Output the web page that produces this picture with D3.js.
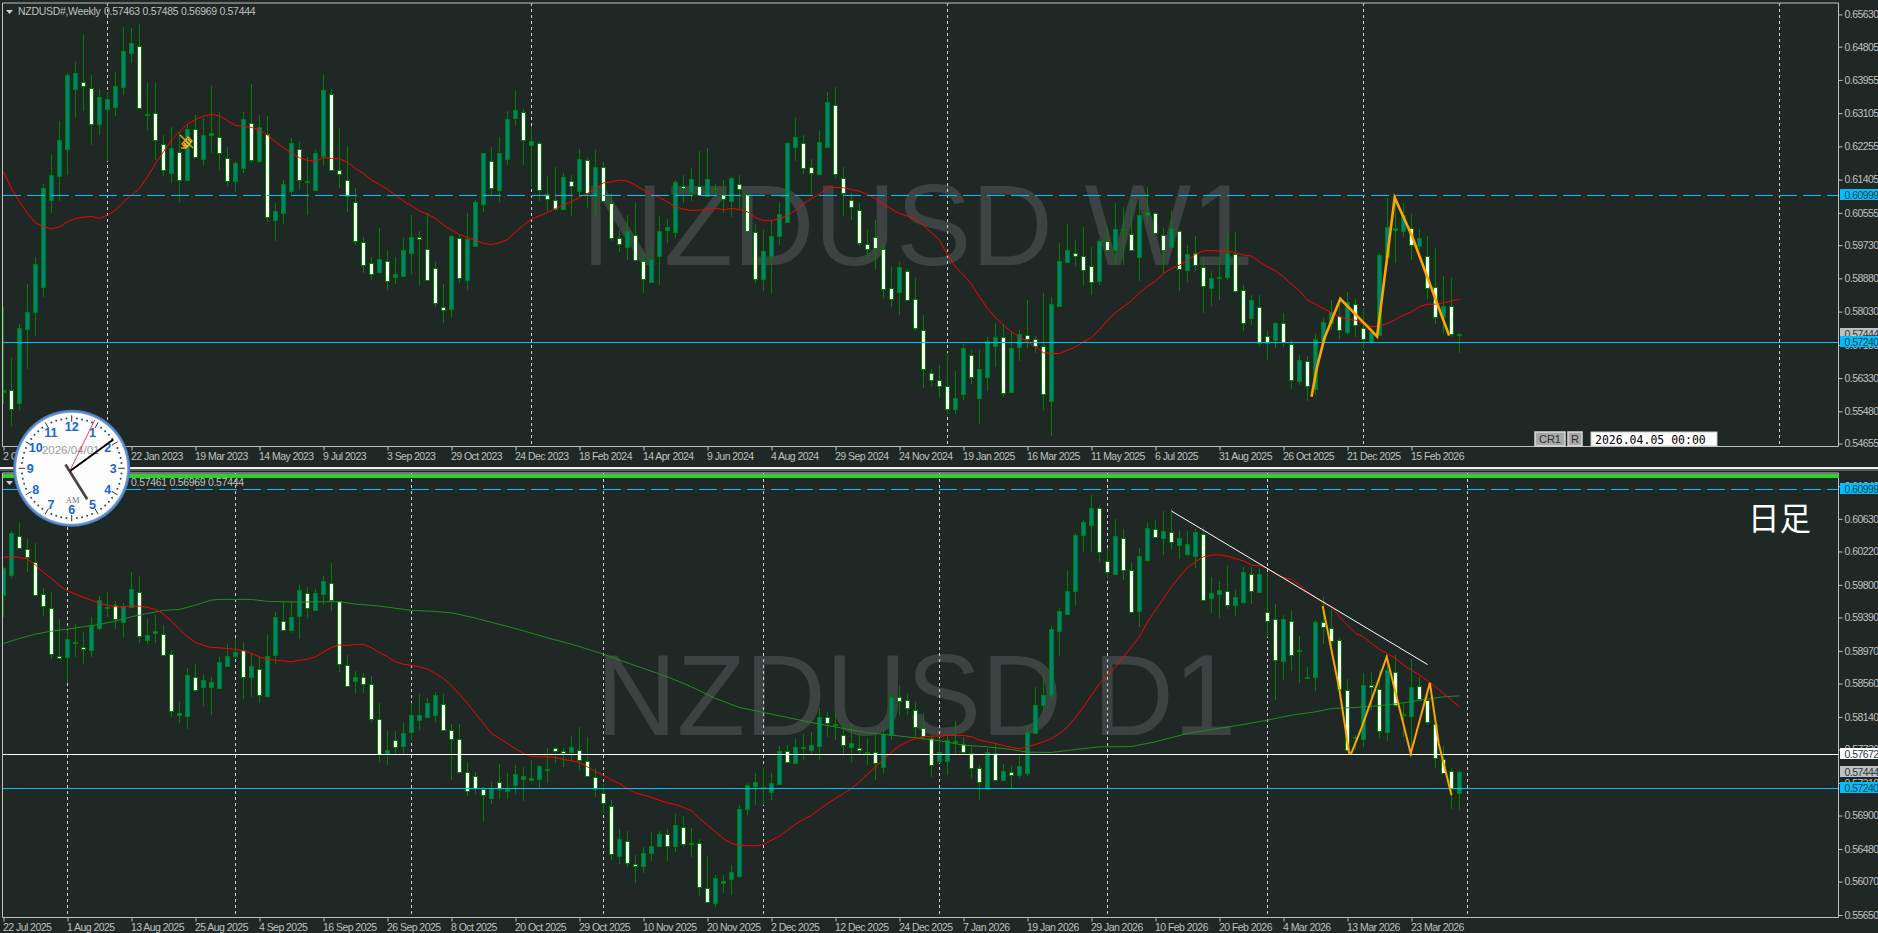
<!DOCTYPE html>
<html><head><meta charset="utf-8">
<script src="https://cdn.jsdelivr.net/npm/d3@7/dist/d3.min.js"></script>
<style>html,body{margin:0;padding:0;background:#1f2824;overflow:hidden}svg{display:block}</style>
</head><body><svg id="c" width="1878" height="933"></svg>
<script>
const weeklyHigh=[.58152,.56831,.57709,.58732,.59431,.61289,.62057,.62909,.64137,.64418,.65126,.64077,.63710,.63651,.64162,.65296,.65270,.65381,.63890,.63890,.62543,.62739,.62628,.62824,.63054,.62969,.63796,.63139,.62244,.61886,.63139,.63847,.63054,.63028,.60795,.61392,.62457,.62372,.61988,.62159,.64103,.63710,.62713,.62261,.61179,.59942,.59431,.60156,.59601,.59431,.59900,.60497,.60096,.60539,.59303,.58732,.59985,.60011,.60539,.60880,.62091,.62244,.62500,.63165,.63693,.63199,.62773,.62398,.61494,.61716,.61579,.61520,.62176,.61946,.62159,.61844,.61051,.60113,
.60497,.60838,.59516,.59704,.60471,.60386,.61392,.61520,.61690,.62133,.62202,.61289,.61392,.61477,.61520,.61093,.60266,.60113,.60369,.60838,.62372,.62969,.62543,.61920,.62670,.63651,.63762,.61716,.61051,.60812,.60113,.60369,.59772,.59201,.59303,.59107,.58877,.57939,.56575,.56660,.56959,.56507,.57214,.57061,.57044,.57368,.57743,.57709,.57513,.57555,.58323,.57402,.58510,.58391,.59772,.60283,.59857,.60198,.59670,.59874,.60198,.60795,.60693,.60880,.60795,.61221,.60582,.60156,.60607,.60113,.59729,.59959,.59431,.59064,.59431,.60045,.60070,
.58706,.58451,.58451,.57555,.57769,.58007,.57300,.56916,.56890,.57453,.57854,.58323,.58237,.58536,.58348,.58110,.57555,.59533,.60923,.60965,.60795,.60522,.60130,.59959,.59644,.58936,.58894,.57485];
const weeklyLow=[.55680,.55100,.55509,.56575,.57402,.58408,.60556,.60863,.61520,.62986,.63156,.62287,.62543,.61886,.63028,.63566,.64375,.63225,.62671,.61903,.61503,.61306,.60838,.61375,.61988,.61750,.62074,.61647,.61238,.61076,.61579,.61818,.61818,.60326,.59840,.60266,.61034,.61136,.60497,.61119,.61750,.61647,.61179,.60573,.59729,.59005,.58834,.58988,.58595,.58732,.58919,.58988,.58681,.58834,.58135,.57726,.57854,.58766,.58595,.59687,.60582,.61008,.60838,.61775,.62773,.61775,.61221,.60863,.60607,.60607,.60624,.60471,.60965,.60667,.60454,.60838,.59840,.59559,
.59346,.59329,.58510,.58792,.58706,.59789,.59925,.60795,.60863,.61000,.60965,.60965,.60556,.60454,.60624,.60070,.58766,.58561,.58493,.59729,.60301,.61886,.61545,.61025,.61520,.62227,.61434,.60471,.60369,.59712,.59363,.59090,.58382,.58152,.57939,.58306,.57538,.56081,.56123,.55833,.55424,.55407,.55782,.56191,.55151,.56004,.56618,.55850,.55936,.56771,.57087,.56959,.55509,.54853,.58135,.59303,.59192,.58681,.58451,.58706,.59584,.59218,.59218,.59584,.58817,.60266,.60028,.59005,.59644,.58561,.58792,.59073,.58001,.58169,.58323,.58851,.58510,
.57538,.57683,.57146,.56805,.57087,.57129,.56055,.56149,.55748,.55893,.57214,.57555,.57342,.57428,.57368,.57087,.57231,.57402,.59431,.59277,.59942,.59346,.59601,.58340,.57709,.57470,.57368,.56969];
const weeklyOpen=[.55978,.56038,.55680,.57598,.58024,.58647,.60863,.61503,.62176,.63710,.63907,.63753,.62807,.63199,.63242,.63753,.64631,.64827,.63046,.63114,.62304,.61562,.62116,.61375,.62705,.61920,.62526,.62483,.61963,.61349,.61690,.62858,.61861,.62568,.60352,.60539,.61093,.62193,.61323,.61119,.62006,.63600,.61647,.61392,.60838,.59815,.59277,.59022,.59329,.58902,.58919,.59533,.59942,.59636,.59150,.58152,.58084,.59900,.58817,.59687,.60769,.61886,.61136,.61920,.62969,.63139,.62270,.62347,.61042,.60889,.60641,.61375,.61119,.61903,.60982,.61733,.60812,.59925,
.59687,.59994,.59329,.58792,.59456,.60096,.60045,.61247,.61068,.61238,.60965,.61170,.61034,.60838,.61298,.61034,.60070,.58851,.59448,.59942,.60301,.62227,.62347,.61716,.61528,.62227,.63318,.61451,.60880,.60624,.59755,.59934,.59636,.58630,.58510,.59073,.58357,.57555,.56464,.56277,.56123,.55552,.55910,.56925,.55833,.56362,.57163,.57385,.55978,.57104,.57436,.57325,.57155,.55748,.58169,.59303,.59533,.59456,.59201,.58792,.59840,.59584,.60113,.60019,.59431,.60480,.60556,.59994,.59661,.60096,.59081,.59533,.59175,.58647,.58894,.58902,.59491,
.58595,.57854,.58152,.57419,.57283,.57726,.57189,.56260,.56771,.56064,.57300,.57743,.57913,.57487,.58229,.57598,.57249,.57419,.59431,.60096,.60096,.60164,.59729,.59456,.58647,.57896,.58169,.57463];
const weeklyClose=[.56038,.55552,.57598,.58024,.59260,.61179,.61511,.62415,.64077,.64120,.63796,.62841,.63506,.63455,.63787,.64682,.64887,.63242,.63071,.62432,.61647,.62202,.61392,.62687,.61988,.62534,.62585,.62074,.61383,.61818,.62943,.61903,.62739,.60454,.60590,.61281,.62329,.61409,.61358,.62074,.63693,.61665,.61537,.60982,.59832,.59218,.58988,.59363,.58817,.58979,.59593,.59942,.59900,.58851,.58263,.58084,.59959,.58877,.59874,.60821,.62074,.61204,.62074,.62943,.63173,.62432,.62381,.61136,.60906,.60667,.61460,.61238,.61937,.61051,.61733,.60855,.59925,.59772,
.60096,.59363,.58877,.59388,.60104,.60181,.61332,.61204,.61409,.61000,.61409,.61196,.60906,.61434,.61179,.60087,.58877,.59567,.59968,.60514,.62329,.62483,.61716,.61562,.62355,.63378,.61562,.61076,.60693,.59772,.59618,.59644,.58621,.58340,.59158,.58323,.57624,.56549,.56294,.56123,.55535,.55833,.57087,.56362,.56575,.57283,.57393,.55961,.57112,.57445,.57342,.57146,.55936,.58237,.59329,.59618,.59448,.59090,.58800,.59823,.59618,.60130,.60139,.59618,.60505,.60565,.60053,.59601,.60156,.59116,.59491,.59218,.58681,.58902,.58911,.59516,.58536,
.57752,.58323,.57231,.57249,.57726,.57249,.56260,.56805,.56123,.57342,.57760,.58024,.57555,.58263,.57700,.57317,.57513,.59474,.60198,.60156,.60497,.59721,.59925,.58647,.57879,.58169,.57445,.57444];
const weeklyMA=[.61605,.61179,.60838,.60539,.60301,.60198,.60147,.60198,.60326,.60411,.60445,.60462,.60411,.60497,.60624,.60838,.61008,.61179,.61477,.61818,.62116,.62415,.62628,.62824,.62943,.63028,.63071,.63037,.62909,.62790,.62773,.62739,.62671,.62543,.62372,.62219,.62091,.61963,.61895,.61869,.61971,.61946,.61937,.61844,.61690,.61562,.61392,.61281,.61153,.61008,.60855,.60735,.60607,.60522,.60411,.60241,.60113,.60002,.59917,.59857,.59772,.59746,.59789,.59874,.60070,.60241,.60394,.60480,.60565,.60667,.60752,.60838,.60948,.61051,.61179,.61323,.61349,.61392,
.61366,.61264,.61136,.61034,.60948,.60838,.60710,.60650,.60616,.60624,.60650,.60667,.60641,.60667,.60641,.60582,.60428,.60360,.60352,.60411,.60480,.60624,.60795,.60923,.61034,.61204,.61204,.61196,.61153,.61110,.61025,.60923,.60778,.60650,.60539,.60471,.60394,.60224,.60053,.59857,.59474,.59175,.58962,.58732,.58408,.58110,.57879,.57683,.57513,.57385,.57257,.57129,.56976,.56959,.56959,.57044,.57129,.57257,.57368,.57572,.57811,.58007,.58152,.58306,.58510,.58681,.58809,.59005,.59133,.59218,.59346,.59499,.59584,.59593,.59576,.59576,.59542,
.59474,.59448,.59303,.59175,.59073,.58919,.58732,.58561,.58323,.58220,.58110,.58007,.57896,.57828,.57811,.57709,.57641,.57666,.57726,.57828,.57939,.58024,.58152,.58220,.58220,.58254,.58306,.58340];
const dailyHigh=[.60028,.60476,.60593,.60384,.60321,.59756,.59705,.59370,.59232,.59307,.59211,.59399,.59659,.59714,.59596,.59567,.59957,.59911,.59378,.59420,.59295,.58979,.58322,.58749,.58803,.58678,.58636,.58904,.59055,.59134,.59076,.58929,.58895,.59181,.59462,.59588,.59588,.59797,.59776,.59742,.59911,.60070,.59601,.58916,.58715,.58686,.58653,.58317,.57974,.57961,.58078,.58309,.58426,.58372,.58456,.58426,.58057,.58057,.57575,.57450,.57261,.57324,.57546,.57437,.57533,.57512,.57604,.57533,.57751,.57764,.57743,.57902,.58016,.57890,.57492,.57295,.57093,.56737,
.56703,.56402,.56506,.56687,.56708,.56737,.56917,.56892,.56749,.56611,.56389,.56150,.56150,.56284,.57030,.57315,.57429,.57512,.57441,.57772,.57785,.57869,.57919,.57953,.58246,.58204,.58204,.58066,.58057,.57932,.57869,.57932,.58016,.58426,.58527,.58426,.58330,.58192,.57898,.57869,.57911,.58091,.57890,.57785,.57533,.57751,.57806,.57554,.57521,.57680,.58016,.58519,.58665,.59282,.59504,.59986,.60447,.60615,.60929,.60803,.60258,.60623,.60497,.60091,.60258,.60593,.60615,.60728,.60749,.60489,.60476,.60497,.60531,.59894,.59847,.60036,.59734,
.60028,.60028,.60015,.59952,.59558,.59420,.59483,.59156,.58770,.59357,.59651,.59491,.59126,.58611,.57911,.58695,.58707,.58728,.58916,.58916,.58309,.58862,.58644,.58435,.58078,.57772,.57492,.57471];
const dailyLow=[.59399,.59890,.60258,.59965,.59659,.59412,.58871,.58875,.58561,.58895,.58803,.58895,.59223,.59399,.59240,.59126,.59504,.59072,.59055,.59072,.58912,.58141,.58066,.57986,.58456,.58275,.58170,.58489,.58779,.58875,.58363,.58393,.58317,.58384,.58803,.59223,.59190,.59122,.59378,.59474,.59546,.59474,.58707,.58519,.58422,.58443,.58078,.57575,.57533,.57680,.57680,.57848,.57974,.58129,.58070,.57965,.57353,.57420,.57148,.57177,.56821,.57051,.57114,.57114,.57177,.57085,.57324,.57240,.57311,.57563,.57512,.57588,.57471,.57387,.57135,.56926,.56347,.56297,
.56255,.56054,.56180,.56330,.56515,.56330,.56443,.56506,.56380,.55886,.55815,.55752,.55932,.55899,.56121,.56905,.57030,.57030,.57093,.57282,.57567,.57546,.57596,.57672,.57604,.57890,.57856,.57647,.57575,.57659,.57533,.57345,.57420,.57848,.58162,.58162,.57890,.57848,.57387,.57563,.57408,.57680,.57680,.57366,.57093,.57240,.57336,.57336,.57240,.57366,.57395,.57923,.58204,.58343,.58908,.59432,.59533,.60216,.60216,.60091,.59881,.59923,.59860,.59462,.59273,.60091,.60405,.60174,.60237,.60124,.60161,.60018,.59601,.59449,.59378,.59491,.59412,
.59558,.59558,.59693,.59147,.58351,.58602,.58720,.58569,.58623,.58468,.59055,.59030,.58477,.57722,.57722,.57764,.58225,.57869,.57840,.58267,.57890,.57638,.58351,.58036,.57504,.57429,.56980,.56969];
const dailyOpen=[.59672,.59915,.60417,.60254,.60091,.59689,.59513,.58908,.58883,.59059,.59021,.58979,.59252,.59525,.59550,.59336,.59517,.59714,.59097,.59185,.59185,.58937,.58162,.58141,.58636,.58506,.58514,.58493,.58782,.58908,.58975,.58636,.58745,.58393,.58908,.59349,.59232,.59399,.59701,.59474,.59689,.59826,.59592,.58795,.58594,.58648,.58556,.58116,.57680,.57844,.57764,.57940,.58091,.58129,.58154,.58305,.57978,.57865,.57450,.57403,.57232,.57114,.57324,.57211,.57282,.57362,.57349,.57349,.57462,.57751,.57714,.57689,.57726,.57588,.57387,.57185,.57022,.56402,
.56582,.56297,.56267,.56435,.56523,.56670,.56519,.56758,.56548,.56557,.55991,.55802,.56054,.56096,.56129,.56972,.57273,.57248,.57185,.57295,.57710,.57554,.57751,.57726,.57777,.58141,.58049,.57915,.57751,.57751,.57693,.57697,.57504,.57911,.58393,.58347,.58233,.58003,.57877,.57575,.57588,.57823,.57797,.57684,.57492,.57248,.57684,.57349,.57450,.57399,.57437,.57940,.58288,.58405,.59211,.59437,.59714,.60417,.60543,.60761,.60103,.59936,.60392,.59990,.59462,.60103,.60505,.60380,.60468,.60292,.60179,.60161,.60443,.59625,.59680,.59726,.59537,
.59579,.59940,.59710,.59462,.59374,.58837,.59349,.58962,.58623,.58636,.59328,.59261,.59101,.58481,.57886,.57869,.58544,.58489,.57953,.58707,.58154,.58154,.58527,.58351,.58049,.57613,.57458,.57177];
const dailyClose=[.60007,.60447,.60271,.60153,.59680,.59542,.58937,.58887,.59114,.59076,.59000,.59282,.59604,.59508,.59378,.59537,.59743,.59164,.59164,.59215,.58925,.58221,.58183,.58661,.58472,.58598,.58573,.58825,.58912,.58962,.58636,.58774,.58422,.58900,.59391,.59240,.59391,.59730,.59517,.59693,.59847,.59617,.58800,.58535,.58648,.58560,.58120,.57680,.57730,.57756,.57932,.58158,.58158,.58309,.58410,.57982,.57860,.57445,.57206,.57248,.57156,.57232,.57240,.57232,.57424,.57403,.57378,.57517,.57479,.57714,.57693,.57756,.57596,.57403,.57240,.57056,.56414,.56611,
.56309,.56272,.56435,.56523,.56674,.56523,.56787,.56548,.56561,.56003,.55819,.56121,.56083,.56184,.56976,.57278,.57328,.57265,.57303,.57714,.57575,.57756,.57760,.57793,.58145,.58070,.58032,.57793,.57806,.57730,.57705,.57554,.57919,.58393,.58338,.58246,.58016,.57907,.57538,.57693,.57856,.57835,.57693,.57492,.57315,.57701,.57349,.57466,.57408,.57517,.57953,.58296,.58410,.59240,.59466,.59722,.60422,.60585,.60761,.60203,.59969,.60413,.59994,.59462,.60157,.60510,.60409,.60472,.60338,.60384,.60308,.60459,.59617,.59693,.59730,.59554,.59642,
.59957,.59730,.59932,.59353,.58862,.59366,.58925,.58979,.58636,.59328,.59269,.59101,.58489,.57730,.57869,.58544,.58523,.57961,.58728,.58288,.58171,.58518,.58363,.58070,.57621,.57441,.57227,.57444];
const dailyMAFast=[.60145,.60158,.60145,.60124,.60049,.59957,.59881,.59789,.59726,.59684,.59642,.59609,.59567,.59546,.59525,.59521,.59533,.59533,.59517,.59491,.59432,.59344,.59244,.59147,.59076,.59038,.59013,.59009,.59000,.58988,.58971,.58937,.58895,.58862,.58853,.58845,.58833,.58853,.58866,.58895,.58958,.59013,.59046,.59038,.59051,.59051,.59009,.58950,.58895,.58833,.58803,.58787,.58770,.58741,.58686,.58623,.58531,.58426,.58309,.58183,.58057,.57932,.57869,.57806,.57743,.57680,.57642,.57638,.57638,.57630,.57605,.57588,.57567,.57512,.57450,.57408,.57345,.57303,
.57240,.57185,.57156,.57127,.57093,.57060,.57039,.57001,.56959,.56863,.56779,.56695,.56611,.56548,.56527,.56523,.56519,.56536,.56590,.56641,.56716,.56791,.56850,.56905,.56976,.57051,.57114,.57177,.57240,.57324,.57420,.57512,.57596,.57701,.57777,.57827,.57869,.57890,.57898,.57898,.57907,.57907,.57907,.57890,.57848,.57827,.57806,.57781,.57756,.57739,.57764,.57793,.57827,.57869,.57932,.58016,.58133,.58267,.58414,.58560,.58652,.58770,.58895,.59021,.59147,.59336,.59483,.59630,.59776,.59902,.60019,.60091,.60153,.60174,.60178,.60161,.60128,
.60103,.60049,.60040,.60007,.59936,.59894,.59869,.59797,.59714,.59642,.59567,.59525,.59399,.59295,.59190,.59147,.59063,.58988,.58937,.58875,.58791,.58728,.58665,.58594,.58519,.58435,.58351,.58267];
const dailySlowBars=[0,2,4,6,8,10,12,14,16,18,20,22,24,26,27,31,33,37,40,42,44,47,51,54,56,59,62,65,68,71,75,77,80,83,86,89,92,95,98,102,105,108,111,114,117,120,123,126,128,131,134,137,141,144,148,151,154,158,161,164,166,169,172,175,178,180,182];
const dailySlowMA=[.59063,.59126,.59181,.59218,.59244,.59273,.59303,.59344,.59399,.59441,.59479,.59491,.59546,.59609,.59617,.59617,.59592,.59584,.59588,.59588,.59558,.59533,.59479,.59466,.59449,.59382,.59303,.59223,.59134,.59055,.58929,.58854,.58749,.58644,.58519,.58372,.58259,.58196,.58133,.58049,.57995,.57940,.57911,.57877,.57840,.57785,.57764,.57730,.57697,.57693,.57730,.57764,.57768,.57827,.57932,.57982,.58028,.58099,.58162,.58204,.58246,.58259,.58280,.58317,.58363,.58393,.58405];
const weeklyWaveBars=[163.5,164.2,165.1,167.1,171.7,173.9,176.1,180.7];
const weeklyWave=[.55850,.56618,.57342,.58357,.57393,.60948,.59942,.57419];
const dailyWaveBars=[164.9,167,168.2,168.5,169.8,172.9,175.9,178.3,179.4,181];
const dailyWave=[.59533,.58477,.57689,.57689,.58016,.58895,.57680,.58569,.57806,.57156];
const trendBars=[146,178];
const trendPrices=[.60728,.58799];
const weeklyTicks=[.65630,.64805,.63955,.63105,.62255,.61405,.60555,.59730,.58880,.58030,.57180,.56330,.55480,.54655];
const dailyTicks=[.61040,.60630,.60220,.59800,.59390,.58970,.58560,.58140,.57730,.57310,.56900,.56480,.56070,.55650];
const weeklyLabels=["2 Oct 2022","27 Nov 2022","22 Jan 2023","19 Mar 2023","14 May 2023","9 Jul 2023","3 Sep 2023","29 Oct 2023","24 Dec 2023","18 Feb 2024","14 Apr 2024","9 Jun 2024","4 Aug 2024","29 Sep 2024","24 Nov 2024","19 Jan 2025","16 Mar 2025","11 May 2025","6 Jul 2025","31 Aug 2025","26 Oct 2025","21 Dec 2025","15 Feb 2026"];
const dailyLabels=["22 Jul 2025","1 Aug 2025","13 Aug 2025","25 Aug 2025","4 Sep 2025","16 Sep 2025","26 Sep 2025","8 Oct 2025","20 Oct 2025","29 Oct 2025","10 Nov 2025","20 Nov 2025","2 Dec 2025","12 Dec 2025","24 Dec 2025","7 Jan 2026","19 Jan 2026","29 Jan 2026","10 Feb 2026","20 Feb 2026","4 Mar 2026","13 Mar 2026","23 Mar 2026"];
const labelEvery=8;
const weeklySeparators=[13,66,118,170,222];
const dailySeparators=[8,29,51,75,95,117,138,158,183];
const levelResistance=.60999, levelSupport=.57240, levelNeck=.57672, lastClose=.57444;

const BG="#1f2824",FRAME="#c0c0c0",TXT="#c0c0c0",WICK="#008000",UP="#008080",DOWN="#ffffff",CY="#00bfff",RED="#ff0000",GRN="#228b22",ORG="#ffa500";
const svg=d3.select("#c");
svg.append("rect").attr("width",1878).attr("height",933).attr("fill",BG);
const x=d3.scaleLinear().domain([0,182]).range([3.5,1459.5]);
const yW=d3.scaleLinear().domain([levelSupport,levelResistance]).range([342.5,195.5]);
const yD=d3.scaleLinear().domain([levelSupport,levelResistance]).range([788.5,489.5]);
const FONT='"Liberation Sans",Arial,sans-serif';

function pane(o){
  const g=svg.append("g");
  g.append("text").attr("x",o.wmX).attr("y",o.wmY).attr("fill","#3d4342").attr("font-family",FONT).attr("font-size",115).attr("textLength",o.wmW).attr("lengthAdjust","spacingAndGlyphs").text(o.wm);
  const id="clip"+o.id;
  svg.append("clipPath").attr("id",id).append("rect").attr("x",3).attr("y",o.top).attr("width",1836).attr("height",o.bottom-o.top);
  const p=g.append("g").attr("clip-path",`url(#${id})`);
  p.selectAll("line.sep").data(o.sep).join("line").attr("class","sep")
    .attr("x1",d=>x(d)).attr("x2",d=>x(d)).attr("y1",o.top).attr("y2",o.bottom)
    .attr("stroke","#d0d0d0").attr("stroke-dasharray","3,3");
  const n=o.open.length, idx=d3.range(n);
  p.selectAll("line.w").data(idx).join("line").attr("class","w")
    .attr("x1",i=>x(i)).attr("x2",i=>x(i)).attr("y1",i=>Math.round(o.y(o.high[i]))).attr("y2",i=>Math.round(o.y(o.low[i])))
    .attr("stroke",WICK).attr("shape-rendering","crispEdges");
  p.selectAll("rect.b").data(idx).join("rect").attr("class","b")
    .attr("x",i=>x(i)-2).attr("width",4)
    .attr("y",i=>Math.round(o.y(Math.max(o.open[i],o.close[i])))+.5)
    .attr("height",i=>Math.max(1,Math.round(Math.abs(o.y(o.open[i])-o.y(o.close[i])))))
    .attr("fill",i=>o.close[i]>=o.open[i]?UP:DOWN)
    .attr("stroke",WICK).attr("shape-rendering","crispEdges");
  const line=d3.line().x(d=>x(d[0])).y(d=>o.y(d[1]));
  (o.slow||[]).length&&p.append("path").attr("d",line(o.slowBars.map((b,i)=>[b,o.slow[i]]))).attr("fill","none").attr("stroke",GRN).attr("stroke-width",1);
  p.append("path").attr("d",line(o.ma.map((v,i)=>[i,v]))).attr("fill","none").attr("stroke",RED).attr("stroke-width",1);
  const lev=(v,c,dash)=>p.append("line").attr("x1",3).attr("x2",1839).attr("y1",Math.floor(o.y(v))+.5).attr("y2",Math.floor(o.y(v))+.5).attr("stroke",c).attr("stroke-dasharray",dash||null);
  lev(levelResistance,CY,"18,6");
  if(o.neck) lev(levelNeck,"#ffffff");
  lev(levelSupport,CY);
  if(o.trend) p.append("path").attr("d",line(trendBars.map((b,i)=>[b,trendPrices[i]]))).attr("stroke","#ffffff").attr("fill","none");
  p.append("path").attr("d",line(o.waveBars.map((b,i)=>[b,o.wave[i]]))).attr("fill","none").attr("stroke",ORG).attr("stroke-width",o.waveW).attr("stroke-linejoin","miter");
  g.append("path").attr("d",`M2.5,${o.top}V${o.bottom+.5}H1838.5V${o.top}`+(o.topLine?`H2.5`:"")).attr("fill","none").attr("stroke",FRAME);
  const ax=d3.axisRight(o.y).tickValues(o.ticks).tickFormat(d3.format(".5f")).tickSize(4).tickPadding(2);
  const ga=g.append("g").attr("transform","translate(1838.5,0)").call(ax);
  const tb=d3.axisBottom(x).tickValues(o.labels.map((_,i)=>i*labelEvery)).tickFormat((_,i)=>o.labels[i]).tickSize(4).tickPadding(2);
  const gb=g.append("g").attr("transform",`translate(0,${o.bottom+.5})`).call(tb);
  for(const a of [ga,gb]){a.select(".domain").remove();a.selectAll("line").attr("stroke",FRAME);a.selectAll("text").attr("fill",TXT).attr("font-family",FONT).attr("font-size",10.5).attr("letter-spacing","-0.55px");}
  gb.selectAll("text").attr("text-anchor","start").attr("dx",-1);
  o.tags.forEach(t=>{
    const yy=Math.floor(o.y(t.v))+.5;
    g.append("rect").attr("x",1840).attr("y",yy-6.5).attr("width",38).attr("height",11).attr("fill",t.c);
    g.append("text").attr("x",1844.5).attr("y",yy+3).attr("fill","#2a3a40").attr("font-family",FONT).attr("font-size",10.5).attr("letter-spacing","-0.55px").text(d3.format(".5f")(t.v));
  });
  g.append("path").attr("d",`M6,${o.hy-5}h7l-3.5,4z`).attr("fill","#d0d0d0");
  g.append("text").attr("x",18).attr("y",o.hy).attr("fill",TXT).attr("font-family",FONT).attr("font-size",10.5).attr("letter-spacing","-0.3px").text(o.name);
  g.append("text").attr("x",o.hx).attr("y",o.hy).attr("fill",TXT).attr("font-family",FONT).attr("font-size",10.5).attr("letter-spacing","-0.3px").text(o.vals);
}
pane({id:"w",top:3,bottom:446,topLine:true,y:yW,open:weeklyOpen,high:weeklyHigh,low:weeklyLow,close:weeklyClose,ma:weeklyMA,
  sep:weeklySeparators,waveBars:weeklyWaveBars,wave:weeklyWave,waveW:2.6,ticks:weeklyTicks,labels:weeklyLabels,
  tags:[{v:lastClose,c:"#c0c0c0"},{v:levelSupport,c:CY},{v:levelResistance,c:CY}],
  wm:"NZDUSD W1",wmX:582,wmY:265,wmW:672,name:"NZDUSD#,Weekly",vals:"0.57463 0.57485 0.56969 0.57444",hx:104,hy:15});
pane({id:"d",top:473,bottom:917,topLine:true,y:yD,open:dailyOpen,high:dailyHigh,low:dailyLow,close:dailyClose,ma:dailyMAFast,slow:dailySlowMA,slowBars:dailySlowBars,
  sep:dailySeparators,neck:true,trend:true,waveBars:dailyWaveBars,wave:dailyWave,waveW:2,ticks:dailyTicks,labels:dailyLabels,
  tags:[{v:lastClose,c:"#c0c0c0"},{v:levelNeck,c:"#ffffff"},{v:levelSupport,c:CY},{v:levelResistance,c:CY}],
  wm:"NZDUSD D1",wmX:596,wmY:735,wmW:640,name:"NZDUSD#,Daily",vals:"0.57461 0.56969 0.57444",hx:131,hy:486});
svg.append("rect").attr("x",3).attr("y",474).attr("width",1836).attr("height",4).attr("fill","#32cd32");
svg.append("rect").attr("x",0).attr("y",467).attr("width",1878).attr("height",2).attr("fill","#f0f0f0");
svg.append("rect").attr("x",0).attr("y",469.5).attr("width",1878).attr("height",1).attr("fill","#909090");
svg.append("text").attr("x",1748).attr("y",530).attr("fill","#fff").attr("font-family",'"Noto Sans CJK JP"').attr("font-size",31.5).text("日足");
const pm=svg.append("g").attr("transform","translate(186,142)").attr("stroke",ORG).attr("fill","none").attr("stroke-width",1.2);
pm.append("path").attr("d","M-6,-7L7,6M-4,2L2,-5L6,-1L0,6ZM-5,6h4v-4").attr("stroke-width",1.4);
pm.append("path").attr("d","M-2,1L2,5M0,-1L4,3M2,-3L5,0").attr("stroke","#ffc040");
const btn=(x0,w,t)=>{svg.append("rect").attr("x",x0).attr("y",432).attr("width",w).attr("height",14).attr("fill","#a8a8a8").attr("stroke","#d8d8d8").attr("stroke-width",1.5);
 svg.append("text").attr("x",x0+w/2).attr("y",443).attr("text-anchor","middle").attr("fill","#303030").attr("font-family",FONT).attr("font-size",11).text(t);};
btn(1535,30,"CR1");btn(1568,14,"R");
svg.append("rect").attr("x",1591).attr("y",432).attr("width",126).attr("height",14).attr("fill","#fff").attr("stroke","#c8c8c8");
svg.append("text").attr("x",1595).attr("y",443.5).attr("fill","#000").attr("font-family",'"DejaVu Sans Mono"').attr("font-size",11.5).text("2026.04.05 00:00");
const cx=71.7,cy=468.3,R=58.5;
const defs=svg.append("defs");
const rg=defs.append("radialGradient").attr("id","rim");
rg.append("stop").attr("offset","90%").attr("stop-color","#b8d0f0");rg.append("stop").attr("offset","100%").attr("stop-color","#3f73bc");
const ck=svg.append("g").attr("transform",`translate(${cx},${cy})`);
ck.append("circle").attr("r",R).attr("fill","url(#rim)");
ck.append("circle").attr("r",55.5).attr("fill","#fdfdfd");
const hours=d3.range(1,13), mins=d3.range(60);
ck.selectAll("circle.m").data(mins.filter(m=>m%5)).join("circle").attr("class","m").attr("r",1)
  .attr("cx",m=>50*Math.sin(m*Math.PI/30)).attr("cy",m=>-50*Math.cos(m*Math.PI/30)).attr("fill","#2b4a7a");
ck.selectAll("line.h").data(hours).join("line").attr("class","h")
  .attr("x1",h=>46.5*Math.sin(h*Math.PI/6)).attr("y1",h=>-46.5*Math.cos(h*Math.PI/6))
  .attr("x2",h=>53*Math.sin(h*Math.PI/6)).attr("y2",h=>-53*Math.cos(h*Math.PI/6)).attr("stroke","#333");
ck.selectAll("text.n").data(hours).join("text").attr("class","n").text(h=>h)
  .attr("x",h=>41.5*Math.sin(h*Math.PI/6)).attr("y",h=>-41.5*Math.cos(h*Math.PI/6)+4.5).attr("text-anchor","middle")
  .attr("font-family",FONT).attr("font-weight",700).attr("font-size",12.5).attr("fill","#1565d8");
ck.append("text").attr("x",-1).attr("y",-14).attr("text-anchor","middle").attr("font-family",FONT).attr("font-size",11.5).attr("fill","#9a9a9a").text("2026/04/01");
ck.append("text").attr("x",1).attr("y",35).attr("text-anchor","middle").attr("font-family","Liberation Serif").attr("font-size",8.5).attr("fill","#777").text("AM");
const hand=(a,l,t,c,w)=>{const r=a*Math.PI/180;ck.append("line").attr("x1",-2-t*Math.sin(r)).attr("y1",3+t*Math.cos(r)).attr("x2",-2+l*Math.sin(r)).attr("y2",3-l*Math.cos(r)).attr("stroke",c).attr("stroke-width",w);};
hand(148,33,8,"#444",2.6);hand(54,54,0,"#000",2);hand(26,57,0,"#f01030",.8);
</script></body></html>
